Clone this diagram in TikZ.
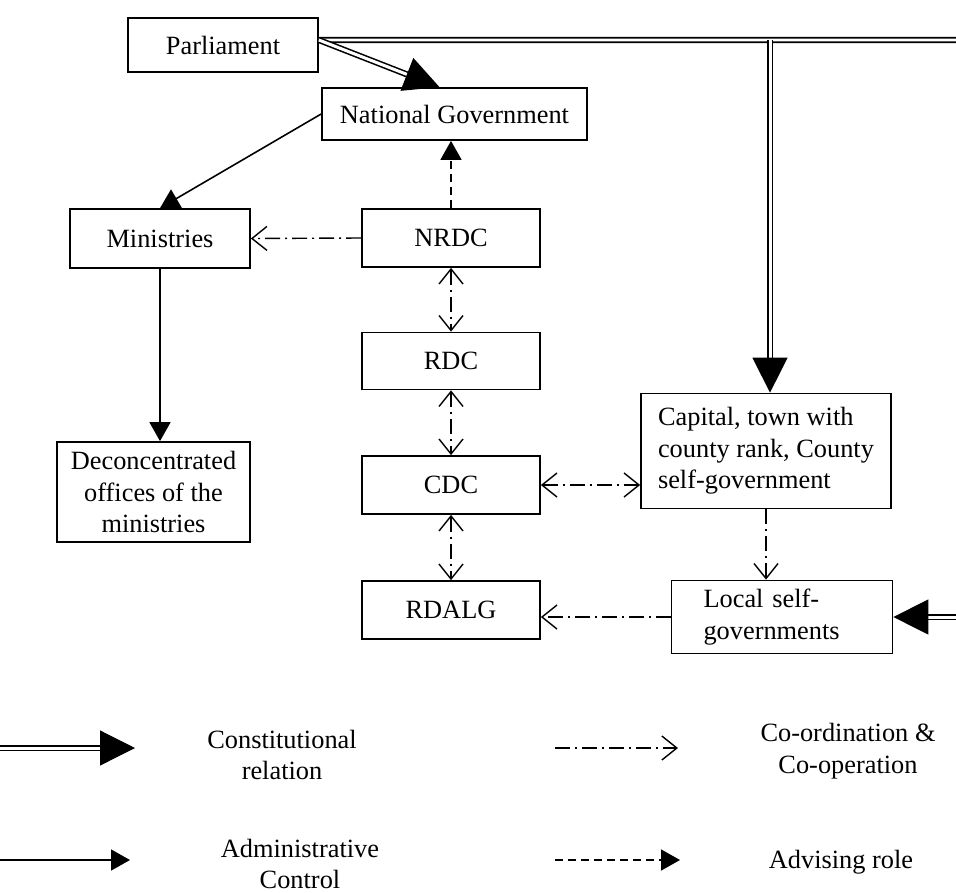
\documentclass[tikz,border=0pt]{standalone}
\usepackage{fontspec}
\setmainfont{Liberation Serif}
\usetikzlibrary{arrows.meta,calc}

% double line with a big filled head
\newcommand\consarrow[2]{%
  \draw[constline] (#1) -- (#2);
  \draw[conshead] ($(#2)!0.6cm!(#1)$) -- (#2);}

\begin{document}
\begin{tikzpicture}[x=0.02cm, y=-0.02cm,
    font=\fontsize{15}{18}\selectfont,
    box/.style={draw, line width=1pt, inner sep=0pt, align=center},
    lbl/.style={align=center},
    dbl/.style={double, double distance=1.7pt, line width=0.9pt},
    constline/.style={dbl, shorten >=16pt},
    conshead/.style={-{Triangle[length=0.7cm,width=0.7cm]}, line width=0.7pt},
    admin/.style={-{Triangle[length=0.38cm,width=0.42cm]}, line width=0.9pt},
    advise/.style={admin, dash pattern=on 0.16cm off 0.1cm},
    coord/.style={>={Straight Barb[length=0.3cm,width=0.48cm]}, ->, line width=0.8pt,
      dash pattern=on 0.3cm off 0.1cm on 0.04cm off 0.1cm},
    coordboth/.style={coord, <->}]
    \useasboundingbox (0,0) rectangle (956,892);

    % boxes
    \node[box, minimum width=3.8cm, minimum height=1.08cm] (parl) at (223,45) {Parliament};
    \node[box, minimum width=5.3cm, minimum height=1.04cm] (natgov) at (454.5,114) {National Government};
    \node[box, minimum width=3.6cm, minimum height=1.18cm] (min) at (160,238.5) {Ministries};
    \node[box, minimum width=3.86cm, minimum height=2cm] (deconc) at (153.5,492) {Deconcentrated\\offices of the\\ministries};
    \node[box, minimum width=3.56cm, minimum height=1.16cm] (nrdc) at (451,238) {NRDC};
    \node[box, minimum width=3.56cm, minimum height=1.14cm] (rdc) at (451,361) {RDC};
    \node[box, minimum width=3.56cm, minimum height=1.16cm] (cdc) at (451,485) {CDC};
    \node[box, minimum width=3.56cm, minimum height=1.16cm] (rdalg) at (451,610) {RDALG};
    \node[box, align=left, minimum width=5cm, minimum height=2.3cm] (capital) at (766,451) {Capital, town with\\county rank, County\\self-government};
    \node[box, align=left, text width=3.14cm, inner xsep=0.64cm, minimum height=1.46cm] (local) at (782,617) {Local self-\\governments};

    % constitutional relations
    \coordinate (parlout) at ([yshift=0.1cm]parl.east);
    \coordinate (edgeN) at (956,40);
    \coordinate (branch) at (770,40);
    \coordinate (capin) at (branch |- capital.north);
    \coordinate (ngin) at ([xshift=-0.3cm]natgov.north);
    \coordinate (edgeS) at (956,617);
    \draw[dbl] (parlout) -- (edgeN);
    \consarrow{parlout}{ngin}
    \consarrow{branch}{capin}
    \consarrow{edgeS}{local.east}

    % administrative control
    \draw[admin] (natgov.west) -- (min.north);
    \draw[admin] (min.south) -- (min.south |- deconc.north);

    % advising role
    \draw[advise] (nrdc.north) -- (nrdc.north |- natgov.south);

    % co-ordination
    \draw[coord] (nrdc.west) -- (min.east);
    \draw[coordboth] (nrdc.south) -- (rdc.north);
    \draw[coordboth] (rdc.south) -- (cdc.north);
    \draw[coordboth] (cdc.south) -- (rdalg.north);
    \draw[coordboth] (cdc.east) -- (cdc.east -| capital.west);
    \draw[coord] (capital.south) -- (capital.south |- local.north);
    \draw[coord] (local.west) -- (local.west -| rdalg.east);

    % legend
    \coordinate (l1a) at (0,748);
    \coordinate (l1b) at (135,748);
    \consarrow{l1a}{l1b}
    \node[lbl] (l1t) at (282,755) {Constitutional\\relation};
    \coordinate (l2a) at (555,748);
    \coordinate (l2b) at (678,748);
    \draw[coord] (l2a) -- (l2b);
    \node[lbl] (l2t) at (848,751) {Co-ordination \&\\Co-operation};
    \coordinate (l3a) at (0,860);
    \coordinate (l3b) at (130,860);
    \draw[admin] (l3a) -- (l3b);
    \node[lbl] (l3t) at (300,864) {Administrative\\Control};
    \coordinate (l4a) at (555,860);
    \coordinate (l4b) at (680,860);
    \draw[advise] (l4a) -- (l4b);
    \node[lbl] (l4t) at (841,862) {Advising role};
\end{tikzpicture}
\end{document}
